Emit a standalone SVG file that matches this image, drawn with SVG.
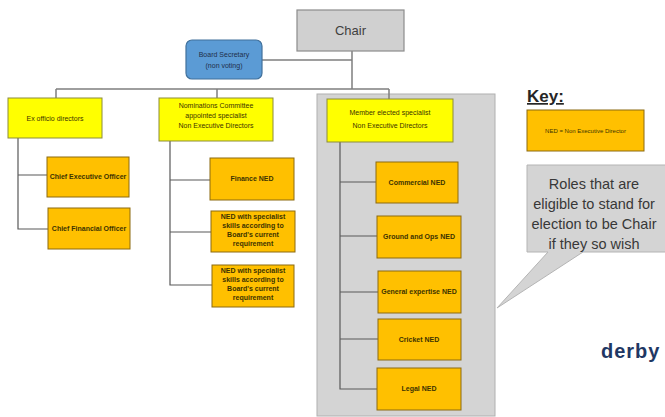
<svg xmlns="http://www.w3.org/2000/svg" width="665" height="417" viewBox="0 0 665 417">
<style>
.bg{fill:#ffffff}
.ln{stroke:#7f7f7f;stroke-width:1.5;fill:none}
.ln2{stroke:#595959;stroke-width:1.2;fill:none}
.yel{fill:#ffff00;stroke:#8c8c3a;stroke-width:1}
.org{fill:#ffc000;stroke:#8c6a10;stroke-width:1}
.t{font-family:"Liberation Sans",Arial,sans-serif;font-size:7px;fill:#3d3300;text-anchor:middle}
.tb{font-family:"Liberation Sans",Arial,sans-serif;font-size:7px;fill:#3d3300;text-anchor:middle;font-weight:bold}
</style>
<rect class="bg" x="0" y="0" width="665" height="417"/>
<g id="panel"><rect x="317" y="94" width="178" height="322" fill="#d4d4d4" stroke="#b0b0b0" stroke-width="1"/></g>
<g id="connectors">
<path class="ln" d="M262 60 H352 M352 51 V89 M56 89 H389 M56 89 V98 M217 89 V98 M389 89 V99"/>
<path class="ln2" d="M18 138 V229 H48 M18 175 H47"/>
<path class="ln2" d="M170 141 V285 H212 M170 180 H210 M170 232 H211"/>
<path class="ln2" d="M340 142 V389 H377 M340 182 H376 M340 236 H377 M340 292 H378 M340 339 H378"/>
</g>
<g id="chair"><rect x="297" y="10" width="107" height="41" fill="#d0d0d0" stroke="#8c8c8c" stroke-width="1.2"/><text x="350.5" y="35" font-family="Liberation Sans,Arial,sans-serif" font-size="13" fill="#404040" text-anchor="middle">Chair</text></g>
<g id="secretary"><rect x="186" y="40" width="76" height="39" rx="6" fill="#5b9bd5" stroke="#41719c" stroke-width="1.2"/><text class="t" x="224" y="57" style="fill:#1f2f4a">Board Secretary</text><text class="t" x="224" y="68" style="fill:#1f2f4a">(non voting)</text></g>
<g id="exofficio"><rect class="yel" x="8" y="98" width="94" height="40"/><text class="t" x="55" y="121">Ex officio directors</text></g>
<g id="ceo"><rect class="org" x="47" y="157" width="82" height="40"/><text class="tb" x="88" y="179">Chief Executive Officer</text></g>
<g id="cfo"><rect class="org" x="48" y="208" width="82" height="41"/><text class="tb" x="89" y="231">Chief Financial Officer</text></g>
<g id="nominations"><rect class="yel" x="159" y="98" width="114" height="43"/><text class="t" x="216" y="108">Nominations Committee</text><text class="t" x="216" y="118">appointed specialist</text><text class="t" x="216" y="128">Non Executive Directors</text></g>
<g id="finance"><rect class="org" x="210" y="158" width="84" height="42"/><text class="tb" x="252" y="181">Finance NED</text></g>
<g id="spec1"><rect class="org" x="211" y="211" width="84" height="41"/><text class="tb" x="253" y="219">NED with specialist</text><text class="tb" x="253" y="228">skills according to</text><text class="tb" x="253" y="237">Board's current</text><text class="tb" x="253" y="246">requirement</text></g>
<g id="spec2"><rect class="org" x="212" y="265" width="82" height="42"/><text class="tb" x="253" y="273">NED with specialist</text><text class="tb" x="253" y="282">skills according to</text><text class="tb" x="253" y="291">Board's current</text><text class="tb" x="253" y="300">requirement</text></g>
<g id="member"><rect class="yel" x="327" y="99" width="126" height="43"/><text class="t" x="390" y="115">Member elected specialist</text><text class="t" x="390" y="128">Non Executive Directors</text></g>
<g id="commercial"><rect class="org" x="376" y="162" width="82" height="41"/><text class="tb" x="417" y="185">Commercial NED</text></g>
<g id="ground"><rect class="org" x="377" y="216" width="84" height="42"/><text class="tb" x="419" y="239">Ground and Ops NED</text></g>
<g id="general"><rect class="org" x="378" y="271" width="83" height="42"/><text class="tb" x="419" y="294">General expertise NED</text></g>
<g id="cricket"><rect class="org" x="378" y="319" width="83" height="41"/><text class="tb" x="419" y="342">Cricket NED</text></g>
<g id="legal"><rect class="org" x="377" y="368" width="84" height="42"/><text class="tb" x="419" y="391">Legal NED</text></g>
<g id="key"><text x="527" y="102" font-family="Liberation Sans,Arial,sans-serif" font-size="17" font-weight="bold" fill="#262626" text-decoration="underline">Key:</text><rect class="org" x="527" y="110" width="117" height="41"/><text class="t" x="585.5" y="133" style="font-size:6px">NED = Non Executive Director</text></g>
<g id="callout"><path d="M527 165 H668 V252 H583 L497 308 L548 252 H527 Z" fill="#d4d4d4" stroke="#b4b4b4" stroke-width="1"/><text font-family="Liberation Sans,Arial,sans-serif" font-size="14.5" fill="#383838" text-anchor="middle"><tspan x="594" y="189">Roles that are</tspan><tspan x="594" y="209">eligible to stand for</tspan><tspan x="594" y="229">election to be Chair</tspan><tspan x="594" y="249">if they so wish</tspan></text></g>
<g id="logo"><text x="601" y="358" font-family="Liberation Sans,Arial,sans-serif" font-size="20" font-weight="bold" letter-spacing="1" fill="#1f3864">derby</text></g>
</svg>
